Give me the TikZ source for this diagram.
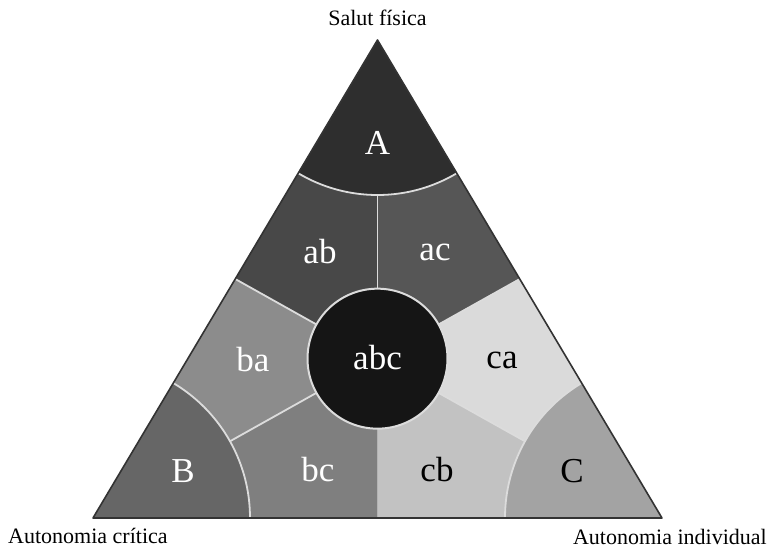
\documentclass[tikz,border=0pt]{standalone}
\usepackage{fontspec}
\setmainfont{Liberation Serif}
\usetikzlibrary{calc}
\definecolor{cA}{HTML}{2E2E2E}
\definecolor{cAB}{HTML}{484848}
\definecolor{cAC}{HTML}{565656}
\definecolor{cBA}{HTML}{8C8C8C}
\definecolor{cCA}{HTML}{DADADA}
\definecolor{cB}{HTML}{666666}
\definecolor{cBC}{HTML}{7F7F7F}
\definecolor{cCB}{HTML}{C2C2C2}
\definecolor{cC}{HTML}{A3A3A3}
\definecolor{cABC}{HTML}{151515}
\definecolor{sep}{HTML}{DCDCDC}
\definecolor{edge}{HTML}{333333}
\tikzset{
  seg/.style={draw=sep, line width=1.8pt},
  reglabel/.style={font=\fontsize{35}{38}\selectfont, inner sep=0pt, anchor=center},
  outlabel/.style={font=\fontsize{22}{25}\selectfont, inner sep=0pt},
}
\begin{document}
\begin{tikzpicture}[x=1pt,y=-1pt]
\useasboundingbox (0,0) rectangle (772,549);
\coordinate (A) at (377.5,40);
\coordinate (B) at (93,518);
\coordinate (C) at (662,518);
\coordinate (O) at (377.5,358.67);
\coordinate (Ml) at ($(A)!0.5!(B)$);
\coordinate (Mr) at ($(A)!0.5!(C)$);
\coordinate (Mb) at ($(B)!0.5!(C)$);
\begin{scope}
  \clip (A) -- (B) -- (C) -- cycle;
  \fill[cAB] (O) -- (A) -- (Ml) -- cycle;
  \fill[cBA] (O) -- (Ml) -- (B) -- cycle;
  \fill[cBC] (O) -- (B) -- (Mb) -- cycle;
  \fill[cCB] (O) -- (Mb) -- (C) -- cycle;
  \fill[cCA] (O) -- (C) -- (Mr) -- cycle;
  \fill[cAC] (O) -- (Mr) -- (A) -- cycle;
  \draw[seg] (O) -- (A);
  \draw[seg] (O) -- (Ml);
  \draw[seg] (O) -- (B);
  \draw[seg] (O) -- (C);
  \draw[seg] (O) -- (Mr);
  \fill[cA] (A) circle (155);
  \draw[seg] (A) circle (155);
  \fill[cB] (B) circle (157);
  \draw[seg] (B) circle (157);
  \fill[cC] (C) circle (157);
  \draw[seg] (C) circle (157);
\end{scope}
\draw[edge, line width=1.6pt, line join=round] (A) -- (B) -- (C) -- cycle;
\node[circle, fill=cABC, draw=sep, line width=2pt, minimum size=140pt, inner sep=0pt] (abc) at (O) {};
\node[reglabel, text=white] (lA) at (377.5,143) {A};
\node[reglabel, text=white] (lab) at (320,252) {ab};
\node[reglabel, text=white] (lac) at (435,252) {ac};
\node[reglabel, text=white] (lba) at (253,360) {ba};
\node[reglabel, text=white] (labc) at (377.5,358) {abc};
\node[reglabel, text=black] (lca) at (502,360) {ca};
\node[reglabel, text=white] (lB) at (183,471) {B};
\node[reglabel, text=white] (lbc) at (318,470) {bc};
\node[reglabel, text=black] (lcb) at (437,470) {cb};
\node[reglabel, text=black] (lC) at (572,471) {C};
\node[outlabel, anchor=base] (top) at (377.5,25) {Salut física};
\node[outlabel, anchor=base west] (left) at (8,543) {Autonomia crítica};
\node[outlabel, anchor=base east] (right) at (767,544) {Autonomia individual};
\end{tikzpicture}
\end{document}
